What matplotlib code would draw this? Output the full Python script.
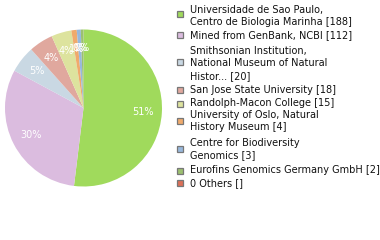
import matplotlib
matplotlib.use("Agg")
import matplotlib.pyplot as plt
from matplotlib.patches import Rectangle

labels = ["Universidade de Sao Paulo,\nCentro de Biologia Marinha [188]",
          "Mined from GenBank, NCBI [112]",
          "Smithsonian Institution,\nNational Museum of Natural\nHistor... [20]",
          "San Jose State University [18]",
          "Randolph-Macon College [15]",
          "University of Oslo, Natural\nHistory Museum [4]",
          "Centre for Biodiversity\nGenomics [3]",
          "Eurofins Genomics Germany GmbH [2]",
          "0 Others []"]
values = [188, 112, 20, 18, 15, 4, 3, 2, 0]
colors = ["#a0da5c", "#dbbcdf", "#c9d8e3", "#e0a89e", "#dde39e",
          "#f0aa6c", "#98b8dc", "#9cc070", "#dc7058"]

W, H = 380, 240
fig = plt.figure(figsize=(W/100, H/100), dpi=100)

cx, cy, r = 83.5, 108, 78.5
ax = fig.add_axes([(cx-r)/W, 1-(cy+r)/H, 2*r/W, 2*r/H])
pv = [v for v in values if v > 0]
pc = colors[:len(pv)]
wedges, texts, autotexts = ax.pie(
    pv, colors=pc, startangle=90, counterclock=False,
    autopct=lambda p: "%d%%" % int(p), pctdistance=0.76,
    wedgeprops=dict(linewidth=0), textprops=dict(color="white", fontsize=7))
ax.set_aspect("equal")
ax.set_xlim(-1, 1)
ax.set_ylim(-1, 1)

# legend layout (pixel positions)
box_y = [14, 35, 62, 90, 104, 121, 149, 171, 183]
first_line_y = [9.7, 35, 51, 90, 103, 115, 143, 170, 183]
pitch = 12.5
for lab, col, by, ty in zip(labels, colors, box_y, first_line_y):
    fig.patches.append(Rectangle((176.5/W, 1-(by+3)/H), 6/W, 6/H,
                                 transform=fig.transFigure, facecolor=col,
                                 edgecolor="#777777", linewidth=0.9))
    for i, line in enumerate(lab.split("\n")):
        fig.text(190/W, 1-(ty+i*pitch)/H, line, fontsize=7, va="center",
                 ha="left", color="#111111")

fig.savefig("out.png", dpi=100)
